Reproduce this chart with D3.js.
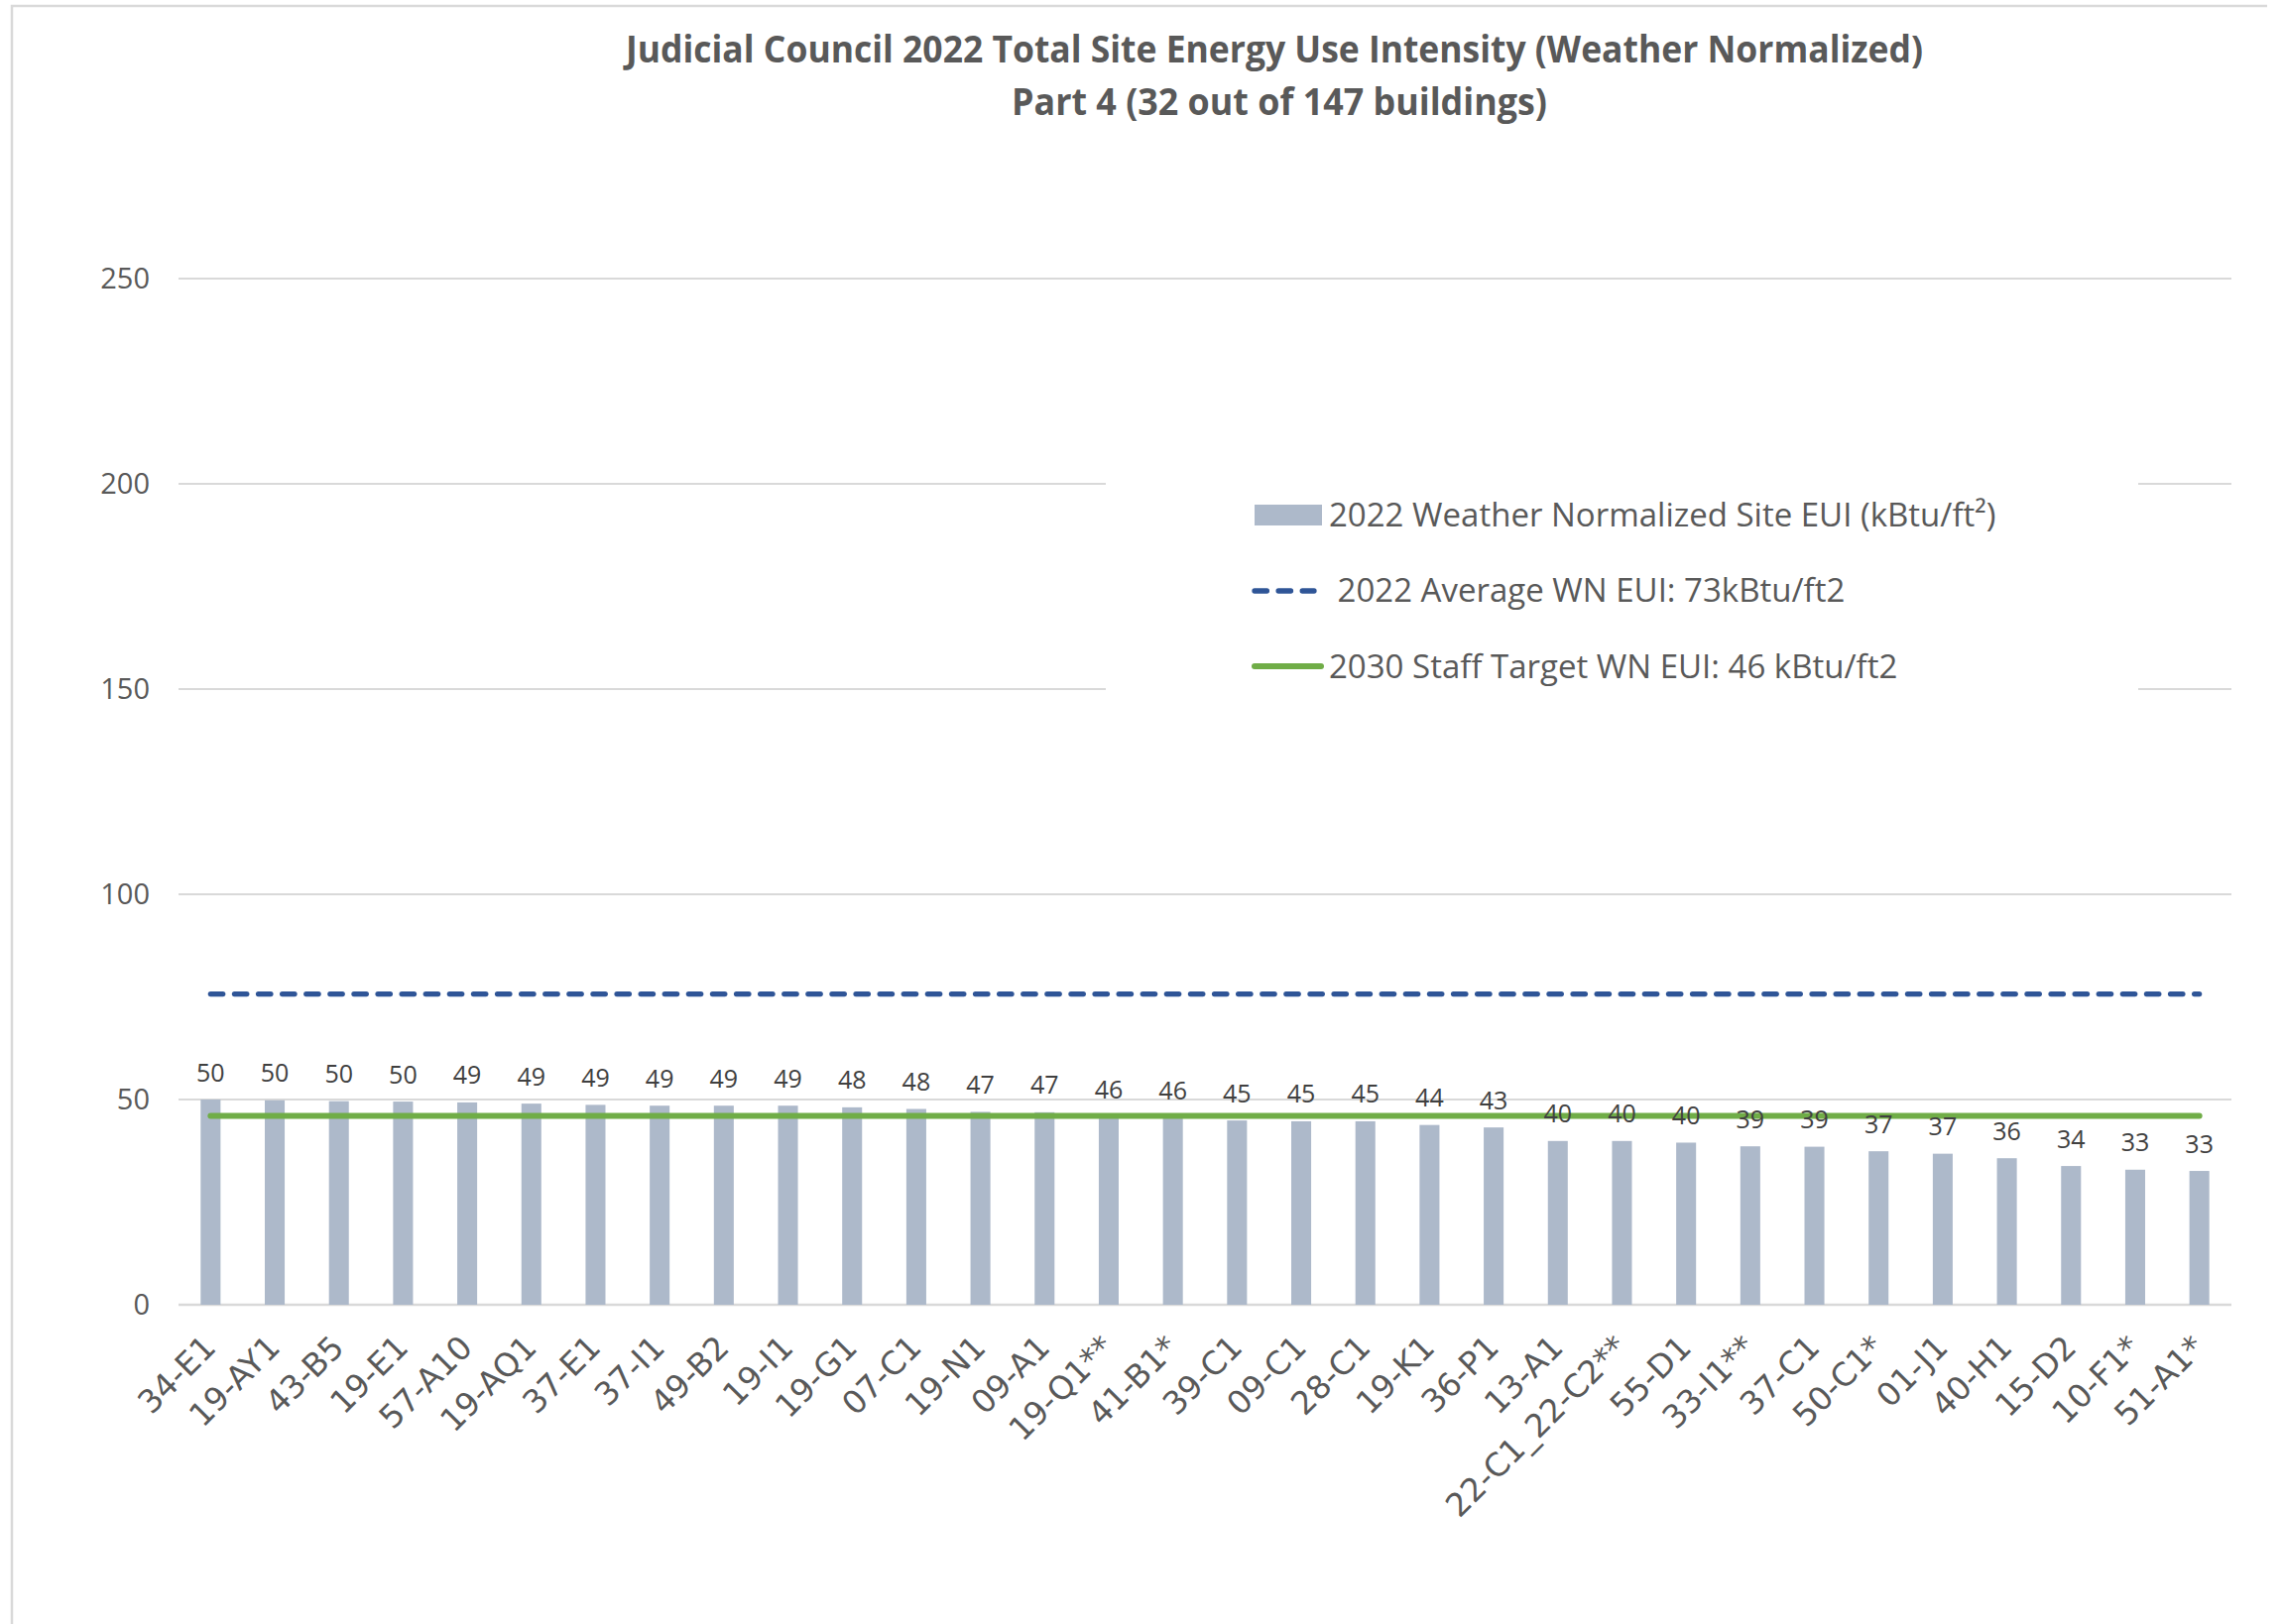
<!DOCTYPE html>
<html>
<head>
<meta charset="utf-8">
<script src="https://cdn.jsdelivr.net/npm/d3@7"></script>
<style>
  body { margin: 0; background: #fff; }
  text { font-family: 'Open Sans', sans-serif; }
</style>
</head>
<body>
<svg id="chart"></svg>
<script>
var buildings = ["34-E1", "19-AY1", "43-B5", "19-E1", "57-A10", "19-AQ1", "37-E1", "37-I1",
  "49-B2", "19-I1", "19-G1", "07-C1", "19-N1", "09-A1", "19-Q1**", "41-B1*", "39-C1", "09-C1",
  "28-C1", "19-K1", "36-P1", "13-A1", "22-C1_22-C2**", "55-D1", "33-I1**", "37-C1", "50-C1*",
  "01-J1", "40-H1", "15-D2", "10-F1*", "51-A1*"];

var eui = [50.0, 49.8, 49.6, 49.5, 49.3, 49.0, 48.7, 48.5, 48.5, 48.5, 48.1, 47.7, 47.0, 46.9,
  45.7, 45.5, 44.9, 44.7, 44.7, 43.8, 43.2, 39.9, 39.9, 39.5, 38.6, 38.5, 37.4, 36.8, 35.7,
  33.8, 32.9, 32.6];

var avgEui = 75.7;
var targetEui = 46;
var yTicks = [0, 50, 100, 150, 200, 250];

var titleLines = ["Judicial Council 2022 Total Site Energy Use Intensity (Weather Normalized)",
  "Part 4 (32 out of 147 buildings)"];
var legendLabels = ["2022 Weather Normalized Site EUI (kBtu/ft\u00b2)",
  " 2022 Average WN EUI: 73kBtu/ft2",
  "2030 Staff Target WN EUI: 46 kBtu/ft2"];

var width = 2302, height = 1638;
var barColor = "#adb9ca", avgColor = "#2f5597", targetColor = "#70ad47", gridColor = "#d9d9d9";

var svg = d3.select("#chart").attr("width", width).attr("height", height);

svg.append("rect").attr("width", width).attr("height", height).attr("fill", "#fff");

// chart area border (only top and left edges show)
svg.append("path")
  .attr("d", "M12,1640 V6 H2286")
  .attr("fill", "none")
  .attr("stroke", gridColor)
  .attr("stroke-width", 2.5);

var x = d3.scaleBand()
  .domain(buildings)
  .range([180, 2250])
  .paddingInner(0.69)
  .paddingOuter(0.345);

var y = d3.scaleLinear().domain([0, 250]).range([1316, 281]);

// gridlines
svg.append("g")
  .selectAll("line")
  .data(yTicks)
  .enter()
  .append("line")
  .attr("x1", 180).attr("x2", 2250)
  .attr("y1", d => y(d)).attr("y2", d => y(d))
  .attr("stroke", gridColor)
  .attr("stroke-width", d => d === 0 ? 2.5 : 2);

// y axis labels
svg.append("g")
  .selectAll("text")
  .data(yTicks)
  .enter()
  .append("text")
  .attr("x", 151)
  .attr("y", d => y(d))
  .attr("dy", "0.35em")
  .attr("text-anchor", "end")
  .attr("font-size", 29)
  .attr("fill", "#595959")
  .text(d => d);

// legend box hides the gridlines behind it
svg.append("rect")
  .attr("x", 1115).attr("y", 420)
  .attr("width", 1041).attr("height", 360)
  .attr("fill", "#fff");

// bars
var data = buildings.map((b, i) => ({ name: b, value: eui[i] }));

svg.append("g")
  .selectAll("rect")
  .data(data)
  .enter()
  .append("rect")
  .attr("x", d => x(d.name))
  .attr("width", x.bandwidth())
  .attr("y", d => y(d.value))
  .attr("height", d => y(0) - y(d.value))
  .attr("fill", barColor);

// reference lines
var xFirst = x(buildings[0]) + x.bandwidth() / 2;
var xLast = x(buildings[buildings.length - 1]) + x.bandwidth() / 2;

svg.append("line")
  .attr("x1", xFirst).attr("x2", xLast)
  .attr("y1", y(avgEui)).attr("y2", y(avgEui))
  .attr("stroke", avgColor)
  .attr("stroke-width", 5.3)
  .attr("stroke-linecap", "round")
  .attr("stroke-dasharray", "12.4,11.7");

svg.append("line")
  .attr("x1", xFirst).attr("x2", xLast)
  .attr("y1", y(targetEui)).attr("y2", y(targetEui))
  .attr("stroke", targetColor)
  .attr("stroke-width", 6)
  .attr("stroke-linecap", "round");

// value labels sit on top of the lines
svg.append("g")
  .selectAll("text")
  .data(data)
  .enter()
  .append("text")
  .attr("x", d => x(d.name) + x.bandwidth() / 2)
  .attr("y", d => y(d.value) - 18.5)
  .attr("text-anchor", "middle")
  .attr("font-size", 25)
  .attr("fill", "#404040")
  .text(d => Math.round(d.value));

// x labels
svg.append("g")
  .selectAll("text")
  .data(buildings)
  .enter()
  .append("text")
  .attr("transform", d => "translate(" + (x(d) + x.bandwidth() / 2 + 7) + ",1361) rotate(-45)")
  .attr("text-anchor", "end")
  .style("font-family", "'DejaVu Sans', sans-serif")
  .attr("font-size", 32.5)
  .attr("fill", "#595959")
  .text(d => d);

// title
svg.append("g")
  .selectAll("text")
  .data(titleLines)
  .enter()
  .append("text")
  .attr("x", (d, i) => i === 0 ? 1285 : 1290)
  .attr("y", (d, i) => i === 0 ? 63 : 116)
  .attr("text-anchor", "middle")
  .attr("font-size", 38)
  .attr("font-weight", "bold")
  .attr("fill", "#595959")
  .attr("textLength", (d, i) => i === 0 ? 1308 : 540)
  .attr("lengthAdjust", "spacingAndGlyphs")
  .text(d => d);

// legend
var legend = svg.append("g");

legend.append("rect")
  .attr("x", 1265).attr("y", 509)
  .attr("width", 68).attr("height", 21)
  .attr("fill", barColor);

legend.append("line")
  .attr("x1", 1265).attr("x2", 1325)
  .attr("y1", 596).attr("y2", 596)
  .attr("stroke", avgColor)
  .attr("stroke-width", 5.3)
  .attr("stroke-linecap", "round")
  .attr("stroke-dasharray", "12.4,11.7");

legend.append("line")
  .attr("x1", 1265).attr("x2", 1332)
  .attr("y1", 672).attr("y2", 672)
  .attr("stroke", targetColor)
  .attr("stroke-width", 6)
  .attr("stroke-linecap", "round");

legend.selectAll("text")
  .data(legendLabels)
  .enter()
  .append("text")
  .attr("x", 1340)
  .attr("y", (d, i) => [531, 607, 684][i])
  .attr("font-size", 33)
  .attr("fill", "#595959")
  .style("white-space", "pre")
  .text(d => d);
</script>
</body>
</html>
